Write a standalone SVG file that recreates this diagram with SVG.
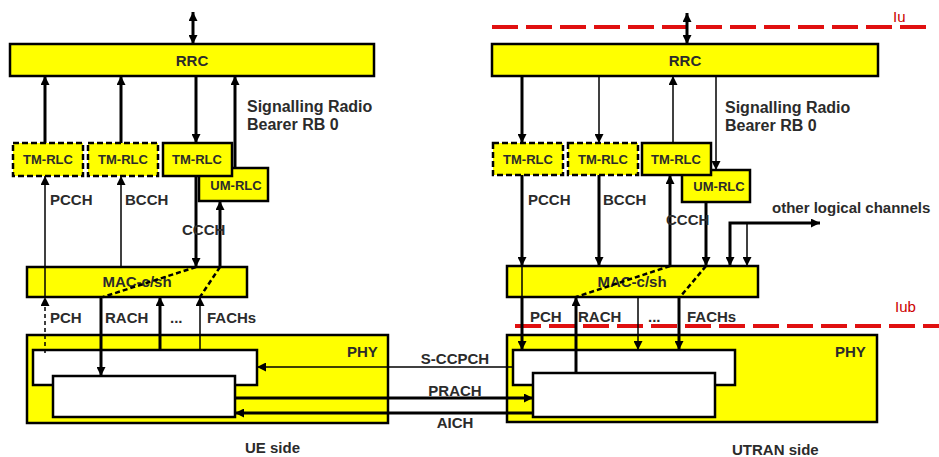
<svg xmlns="http://www.w3.org/2000/svg" width="939" height="457" viewBox="0 0 939 457">
<style>
  .y{fill:#ffff00;stroke:#000;stroke-width:2.5}
  .yd{fill:#ffff00;stroke:#000;stroke-width:2.5;stroke-dasharray:6 3}
  .w{fill:#fff;stroke:#000;stroke-width:2.5}
  .t{font-family:"Liberation Sans",Arial,sans-serif;font-weight:bold;fill:#2b2b2b}
  .s13{font-size:13px}
  .s15{font-size:15px}
  .s16{font-size:16px}
  .mid{text-anchor:middle}
  .red{font-family:"Liberation Sans",Arial,sans-serif;font-size:15px;fill:#cc0000}
  .k{fill:none;stroke:#000;stroke-width:3}
  .n{fill:none;stroke:#000;stroke-width:1.5}
  .d{fill:none;stroke:#000;stroke-width:2.5;stroke-dasharray:5 3}
  .dn{fill:none;stroke:#000;stroke-width:1.5;stroke-dasharray:4 3}
  .a{marker-end:url(#ah)}
  .b{marker-start:url(#ah);marker-end:url(#ah)}
  .iu{fill:none;stroke:#e01010;stroke-width:4;stroke-dasharray:26 8}
</style>
<defs>
  <marker id="ah" viewBox="0 0 10 10" refX="10" refY="5" markerWidth="9" markerHeight="9" markerUnits="userSpaceOnUse" orient="auto-start-reverse">
    <path d="M0,0 L10,5 L0,10 z" fill="#000"/>
  </marker>
</defs>

<!-- interface lines -->
<g id="interfaces">
  <path class="iu" d="M492,27 L930,27"/>
  <text class="red" x="893" y="22">Iu</text>
  <path class="iu" d="M515,326 L939,326"/>
  <text class="red" x="895" y="312">Iub</text>
</g>

<!-- UE side nodes -->
<g id="ue-rrc">
  <rect class="y" x="10" y="44" width="364" height="32"/>
  <text class="t s15 mid" x="192" y="66">RRC</text>
</g>
<g id="ue-tm-rlc-1">
  <rect class="yd" x="13" y="143" width="70" height="33"/>
  <text class="t s13 mid" x="48" y="164">TM-RLC</text>
</g>
<g id="ue-tm-rlc-2">
  <rect class="yd" x="88" y="143" width="70" height="33"/>
  <text class="t s13 mid" x="123" y="164">TM-RLC</text>
</g>
<g id="ue-um-rlc">
  <rect class="y" x="199" y="168" width="69" height="33"/>
  <text class="t s13 mid" x="236" y="190">UM-RLC</text>
</g>
<g id="ue-tm-rlc-3">
  <rect class="y" x="163" y="143" width="69" height="33"/>
  <text class="t s13 mid" x="197" y="164">TM-RLC</text>
</g>
<g id="ue-mac">
  <rect class="y" x="27" y="267" width="220" height="30"/>
  <text class="t s15 mid" x="137" y="287">MAC-c/sh</text>
</g>
<g id="ue-phy">
  <rect class="y" x="27" y="335" width="361" height="88"/>
  <text class="t s15" x="347" y="357">PHY</text>
  <rect class="w" x="33" y="350" width="224" height="35"/>
  <rect class="w" x="53" y="376" width="182" height="41"/>
</g>
<text class="t s15" x="245" y="453">UE side</text>
<text class="t s16" x="247" y="112">Signalling Radio</text>
<text class="t s16" x="247" y="130">Bearer RB 0</text>

<!-- UTRAN side nodes -->
<g id="utran-rrc">
  <rect class="y" x="492" y="44" width="386" height="32"/>
  <text class="t s15 mid" x="685" y="66">RRC</text>
</g>
<g id="utran-tm-rlc-1">
  <rect class="yd" x="493" y="143" width="70" height="32"/>
  <text class="t s13 mid" x="528" y="164">TM-RLC</text>
</g>
<g id="utran-tm-rlc-2">
  <rect class="yd" x="568" y="143" width="70" height="32"/>
  <text class="t s13 mid" x="603" y="164">TM-RLC</text>
</g>
<g id="utran-um-rlc">
  <rect class="y" x="682" y="170" width="68" height="32"/>
  <text class="t s13 mid" x="719" y="191">UM-RLC</text>
</g>
<g id="utran-tm-rlc-3">
  <rect class="y" x="642" y="143" width="69" height="32"/>
  <text class="t s13 mid" x="676" y="164">TM-RLC</text>
</g>
<g id="utran-mac">
  <rect class="y" x="507" y="266" width="251" height="31"/>
  <text class="t s15 mid" x="632" y="287">MAC-c/sh</text>
</g>
<g id="utran-phy">
  <rect class="y" x="507" y="335" width="370" height="87"/>
  <text class="t s15" x="835" y="357">PHY</text>
  <rect class="w" x="513" y="350" width="222" height="35"/>
  <rect class="w" x="533" y="373" width="182" height="44"/>
</g>
<text class="t s15" x="732" y="455">UTRAN side</text>
<text class="t s16" x="725" y="113">Signalling Radio</text>
<text class="t s16" x="725" y="131">Bearer RB 0</text>

<!-- connectors -->
<g id="connectors">
  <!-- UE side -->
  <path class="k b" d="M193,12 L193,44"/>
  <path class="k a" d="M45,143 L45,76"/>
  <path class="k a" d="M121,143 L121,76"/>
  <path class="k a" d="M196,76 L196,143"/>
  <path class="k a" d="M235,168 L235,76"/>
  <path class="n a" d="M45,297 L45,176"/>
  <path class="dn a" d="M45,353 L45,297"/>
  <path class="n a" d="M121,267 L121,176"/>
  <path class="k a" d="M196,176 L196,267"/>
  <path class="k a" d="M220,267 L220,201"/>
  <path class="d" d="M196,267 L103,297"/>
  <path class="d" d="M220,267 L200,297"/>
  <path class="k a" d="M101,297 L101,376"/>
  <path class="k a" d="M160,350 L160,297"/>
  <path class="n a" d="M200,350 L200,297"/>

  <!-- air interface -->
  <path class="n a" d="M513,367 L257,367"/>
  <path class="k a" d="M235,398 L533,398"/>
  <path class="k a" d="M533,413 L235,413"/>

  <!-- UTRAN side -->
  <path class="k b" d="M687,13 L687,44"/>
  <path class="k a" d="M522,76 L522,143"/>
  <path class="n a" d="M599,76 L599,143"/>
  <path class="n a" d="M673,143 L673,76"/>
  <path class="n a" d="M716,76 L716,170"/>
  <path class="k a" d="M522,175 L522,266"/>
  <path class="n" d="M522,266 L522,297"/>
  <path class="k a" d="M522,297 L522,350"/>
  <path class="k a" d="M599,175 L599,266"/>
  <path class="k a" d="M670,266 L670,175"/>
  <path class="k a" d="M706,202 L706,266"/>
  <path class="d" d="M670,266 L576,297"/>
  <path class="d" d="M706,266 L680,297"/>
  <path class="k a" d="M576,373 L576,297"/>
  <path class="n a" d="M638,297 L638,350"/>
  <path class="k a" d="M679,297 L679,350"/>
  <path class="k b" d="M820,223 L730,223 L730,266"/>
  <path class="n a" d="M747,223 L747,266"/>

  <!-- channel labels -->
  <text class="t s15" x="50" y="205">PCCH</text>
  <text class="t s15" x="125" y="205">BCCH</text>
  <text class="t s15" x="182" y="235">CCCH</text>
  <text class="t s15" x="50" y="323">PCH</text>
  <text class="t s15" x="105" y="323">RACH</text>
  <text class="t s15" x="170" y="323">...</text>
  <text class="t s15" x="207" y="323">FACHs</text>

  <text class="t s15 mid" x="455" y="364">S-CCPCH</text>
  <text class="t s15 mid" x="455" y="396">PRACH</text>
  <text class="t s15 mid" x="455" y="428">AICH</text>

  <text class="t s15" x="528" y="205">PCCH</text>
  <text class="t s15" x="603" y="205">BCCH</text>
  <text class="t s15" x="666" y="225">CCCH</text>
  <text class="t s15" x="530" y="322">PCH</text>
  <text class="t s15" x="578" y="322">RACH</text>
  <text class="t s15" x="648" y="322">...</text>
  <text class="t s15" x="687" y="322">FACHs</text>
  <text class="t s15" x="772" y="213">other logical channels</text>
</g>
</svg>
